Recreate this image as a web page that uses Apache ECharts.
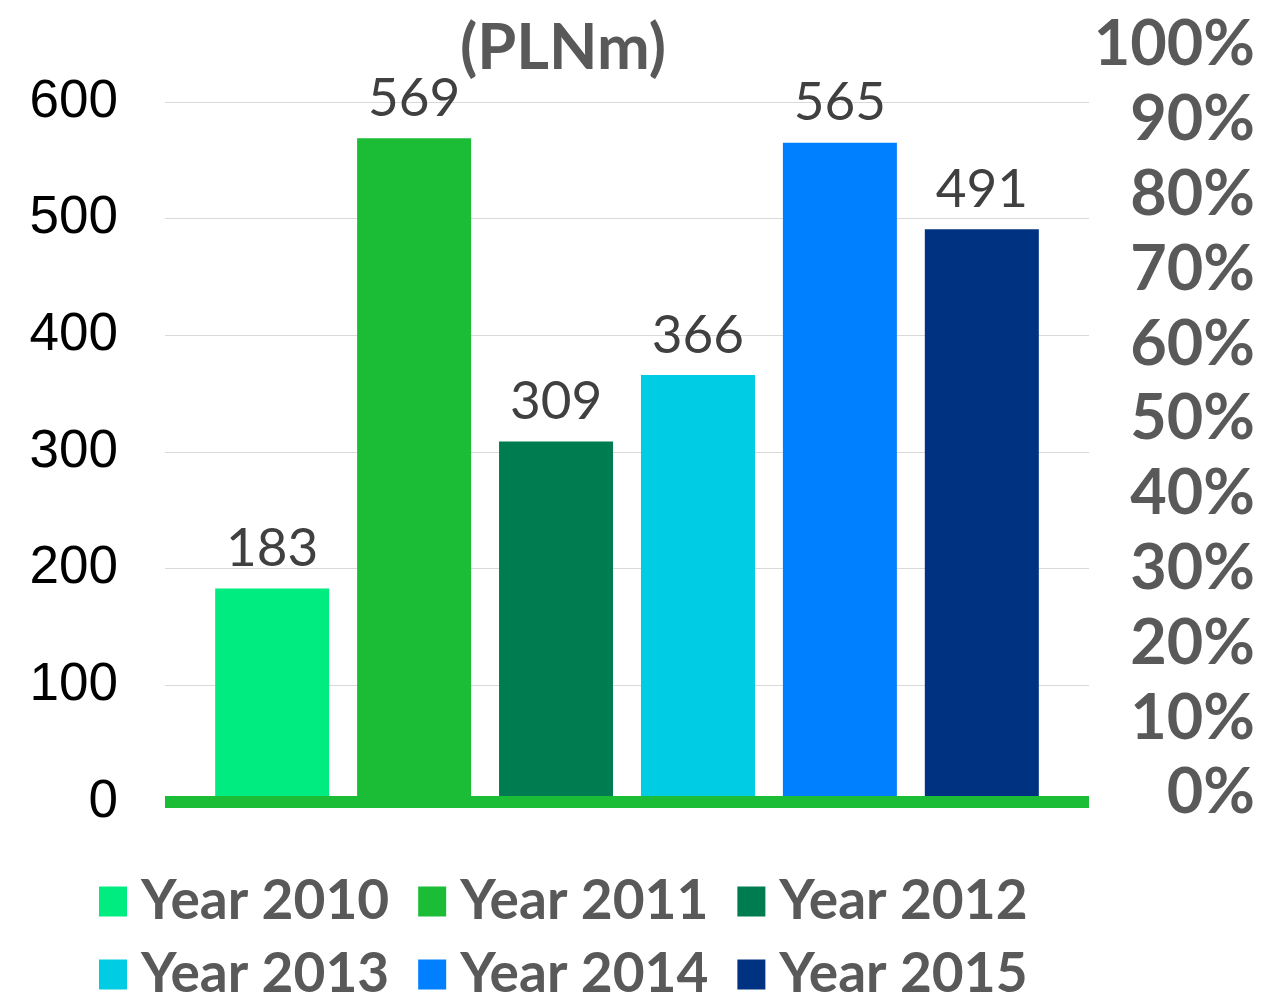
<!DOCTYPE html>
<html><head><meta charset="utf-8">
<script src="https://cdn.jsdelivr.net/npm/echarts@6/dist/echarts.min.js"></script>
<style>html,body{margin:0;padding:0;background:#fff}#c{width:1261px;height:994px}</style>
</head><body><div id="c"></div>
<script>
const categories = ['PLNm'];
const seriesNames = ['Year 2010','Year 2011','Year 2012','Year 2013','Year 2014','Year 2015'];
const values = [183, 569, 309, 366, 565, 491];
const colors = ['#00EB80','#1BBD36','#007D50','#00CCE3','#0080FF','#003282'];
const leftTicks = {min:0, max:600, interval:100};
const rightTicks = {min:0, max:100, interval:10};
const titleText = '(PLNm)';

const chart = echarts.init(document.getElementById('c'), null, {renderer:'canvas'});
const series = seriesNames.map((n,i)=>({
  name:n, type:'bar', xAxisIndex:0, yAxisIndex:0,
  data:[values[i]], barWidth:114, barGap:'24.5%',
  itemStyle:{color:colors[i]},
  label:{show:true, position:'top', distance:13, fontFamily:'Lato', fontSize:53, color:'#404040'}
}));
const legendCommon = {
  icon:'rect', itemWidth:28, itemHeight:30, itemGap:29, orient:'horizontal', padding:0,
  textStyle:{fontFamily:'Lato', fontWeight:'bold', fontSize:55, color:'#595959', padding:[0,0,0,9]}
};
chart.setOption({
  animation:false,
  title:{text:titleText, left:558, top:12, textAlign:'center',
    textStyle:{fontFamily:'Lato', fontWeight:'bold', fontSize:63, color:'#595959'}},
  legend:[
    Object.assign({left:99, top:874, data:seriesNames.slice(0,3)}, legendCommon),
    Object.assign({left:99, top:947, data:seriesNames.slice(3,6)}, legendCommon)
  ],
  grid:[
    {left:165, right:172, top:102, bottom:192},
    {left:165, right:172, top:45, bottom:201}
  ],
  xAxis:[
    {type:'category', data:categories, gridIndex:0, z:5,
      axisLine:{show:true, lineStyle:{color:'#1BBD36', width:12, cap:'butt'}},
      axisTick:{show:false}, axisLabel:{show:false}},
    {type:'category', data:categories, gridIndex:1, show:false}
  ],
  yAxis:[
    {type:'value', gridIndex:0, min:leftTicks.min, max:leftTicks.max, interval:leftTicks.interval,
      axisLabel:{fontFamily:'Liberation Sans', fontSize:53, color:'#000', margin:47},
      axisLine:{show:false}, axisTick:{show:false},
      splitLine:{lineStyle:{color:'#D9D9D9', width:1}}},
    {type:'value', gridIndex:1, position:'right', min:rightTicks.min, max:rightTicks.max, interval:rightTicks.interval,
      axisLabel:{formatter:'{value}%', fontFamily:'Lato', fontWeight:'bold', fontSize:63, color:'#595959', align:'right', margin:166},
      axisLine:{show:false}, axisTick:{show:false}, splitLine:{show:false}}
  ],
  series:series
});
</script></body></html>
